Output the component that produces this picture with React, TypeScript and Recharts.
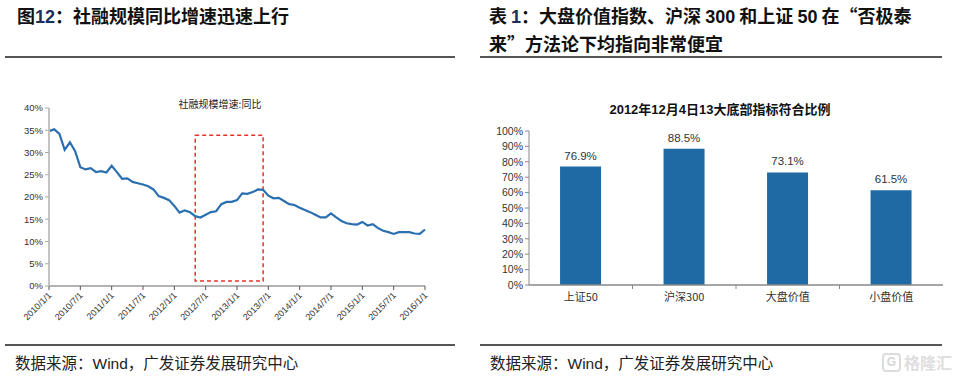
import React from "react";
import {
  LineChart, Line, XAxis, YAxis, ReferenceArea,
  BarChart, Bar, LabelList,
} from "recharts";

// ---------- Left chart data: 社融规模增速:同比 (monthly, 2010/1 – 2016/1) ----------
const tsfGrowth: number[] = [
  34.8, 35.2, 34.2, 30.6, 32.3, 30.3, 26.7, 26.2, 26.5, 25.6, 25.8, 25.5,
  27.0, 25.6, 24.1, 24.2, 23.4, 23.1, 22.8, 22.4, 21.7, 20.2, 19.8, 19.3,
  18.0, 16.5, 17.0, 16.6, 15.7, 15.4, 16.0, 16.6, 16.8, 18.4, 18.9, 18.9,
  19.3, 20.8, 20.7, 21.1, 21.7, 21.6, 20.3, 19.7, 19.8, 19.1, 18.4, 18.2,
  17.6, 17.1, 16.6, 16.0, 15.4, 15.4, 16.3, 15.4, 14.6, 14.1, 13.9, 13.8,
  14.4, 13.6, 13.9, 13.0, 12.4, 12.1, 11.7, 12.1, 12.1, 12.1, 11.8, 11.7,
  12.7,
];
const startYear = 2010;
const monthLabels: string[] = tsfGrowth.map(
  (_, i) => `${startYear + Math.floor(i / 12)}/${(i % 12) + 1}/1`
);
const lineYTicks = [0, 5, 10, 15, 20, 25, 30, 35, 40];
const boxStart = "2012/5/1";
const boxEnd = "2013/6/1";
const boxLow = 1.1;
const boxHigh = 33.9;
const lineData = monthLabels.map((d, i) => ({ date: d, v: tsfGrowth[i] }));

// ---------- Right chart data: 2012年12月4日13大底部指标符合比例 ----------
const barCategories = ["上证50", "沪深300", "大盘价值", "小盘价值"];
const barValues = [76.9, 88.5, 73.1, 61.5];
const barYTicks = [0, 10, 20, 30, 40, 50, 60, 70, 80, 90, 100];
const barData = barCategories.map((c, i) => ({ name: c, v: barValues[i] }));

const FONT = "'Liberation Sans', Arial, 'Noto Sans CJK SC', sans-serif";
const CJK = "'Noto Sans CJK SC', 'Liberation Sans', sans-serif";

// bar chart layout constants
const BAR_W = 478;
const BAR_H = 240;
const BAR_MARGIN = { top: 41, right: 15, left: 9, bottom: 15 };
const BAR_YAXIS_W = 40;
const BAR_PLOT_W = BAR_W - BAR_MARGIN.left - BAR_MARGIN.right - BAR_YAXIS_W;

const LineXTick = (props: any) => {
  const { x, y, payload } = props;
  return (
    <g transform={`translate(${x + 3},${y + 4})`}>
      <text
        x={0}
        y={0}
        textAnchor="end"
        transform="rotate(-45)"
        fontSize={9}
        fill="#333"
        fontFamily={FONT}
      >
        {payload.value}
      </text>
    </g>
  );
};

const BarXTick = (props: any) => {
  const { x, y, payload, index } = props;
  const band = BAR_PLOT_W / barCategories.length;
  return (
    <g>
      {index > 0 && (
        <line x1={x - band / 2} x2={x - band / 2} y1={y - 8} y2={y - 4} stroke="#888" strokeWidth={1} />
      )}
      <text x={x} y={y + 8} textAnchor="middle" fontSize={11} fill="#333" fontFamily={CJK}>
        {payload.value}
      </text>
    </g>
  );
};

const abs = (l: number, t: number, extra: React.CSSProperties = {}): React.CSSProperties => ({
  position: "absolute",
  left: l,
  top: t,
  ...extra,
});

export default function App() {
  const titleStyle: React.CSSProperties = {
    fontFamily: CJK,
    fontWeight: 700,
    fontSize: 18,
    color: "#111",
    whiteSpace: "nowrap",
    lineHeight: "28px",
  };
  const footStyle: React.CSSProperties = {
    fontFamily: CJK,
    fontSize: 15.5,
    color: "#222",
    whiteSpace: "nowrap",
  };
  return (
    <div
      style={{
        position: "absolute",
        left: 0,
        top: 0,
        width: 958,
        height: 380,
        background: "#fff",
        overflow: "hidden",
      }}
    >
      {/* headers */}
      <div style={abs(17, 1, titleStyle)}>
        图<span style={{ fontFamily: FONT, color: "#1a2f5a" }}>12</span>：社融规模同比增速迅速上行
      </div>
      <div style={abs(489, 1, titleStyle)}>
        表 <span style={{ fontFamily: FONT, color: "#1a2f5a" }}>1</span>：大盘价值指数、沪深{" "}
        <span style={{ fontFamily: FONT }}>300</span> 和上证{" "}
        <span style={{ fontFamily: FONT }}>50</span> 在“否极泰
      </div>
      <div style={abs(489, 29, titleStyle)}>来”方法论下均指向非常便宜</div>

      {/* rules */}
      <div style={abs(5, 56, { width: 450, height: 1.5, background: "#555" })} />
      <div style={abs(480, 56, { width: 462, height: 1.5, background: "#555" })} />
      <div style={abs(5, 344, { width: 450, height: 1.5, background: "#555" })} />
      <div style={abs(480, 344, { width: 462, height: 1.5, background: "#555" })} />

      {/* footers */}
      <div style={abs(15, 351, footStyle)}>
        数据来源：<span style={{ fontFamily: FONT }}>Wind</span>，广发证券发展研究中心
      </div>
      <div style={abs(490, 351, footStyle)}>
        数据来源：<span style={{ fontFamily: FONT }}>Wind</span>，广发证券发展研究中心
      </div>

      {/* watermark */}
      <div
        style={abs(882, 352, {
          display: "flex",
          alignItems: "center",
          gap: 3,
          whiteSpace: "nowrap",
          height: 20,
        })}
      >
        <div
          style={{
            width: 15,
            height: 15,
            border: "2px solid #dcdcdc",
            borderRadius: 4,
            color: "#d4d4d4",
            fontFamily: FONT,
            fontWeight: 700,
            fontSize: 12,
            lineHeight: "15px",
            textAlign: "center",
            flex: "none",
          }}
        >
          G
        </div>
        <span
          style={{
            fontFamily: CJK,
            fontWeight: 700,
            fontSize: 16,
            lineHeight: "20px",
            color: "#dedede",
          }}
        >
          格隆汇
        </span>
      </div>

      {/* left chart title */}
      <div
        style={abs(120, 96, {
          width: 200,
          textAlign: "center",
          fontFamily: CJK,
          fontSize: 10,
          color: "#222",
        })}
      >
        社融规模增速:同比
      </div>

      {/* left line chart */}
      <div style={abs(0, 90)}>
        <LineChart
          width={460}
          height={270}
          data={lineData}
          margin={{ top: 18, right: 35, left: 9, bottom: 24 }}
        >
          <XAxis
            dataKey="date"
            interval={5}
            height={50}
            tick={<LineXTick />}
            tickSize={4}
            tickLine={{ stroke: "#555" }}
            axisLine={{ stroke: "#666", strokeWidth: 1.2 }}
          />
          <YAxis
            width={40}
            domain={[0, 40]}
            ticks={lineYTicks}
            interval={0}
            tickFormatter={(v: number) => `${v}%`}
            tick={{ fontSize: 9.5, fill: "#333", fontFamily: FONT }}
            tickSize={4}
            tickLine={{ stroke: "#aaa" }}
            axisLine={{ stroke: "#c4c4c4", strokeWidth: 2 }}
          />
          <ReferenceArea
            x1={boxStart}
            x2={boxEnd}
            y1={boxLow}
            y2={boxHigh}
            fill="none"
            fillOpacity={0}
            stroke="#e8302a"
            strokeWidth={1.5}
            strokeDasharray="4 3"
            ifOverflow="visible"
          />
          <Line
            type="linear"
            dataKey="v"
            stroke="#2a6fb0"
            strokeWidth={2.2}
            dot={false}
            isAnimationActive={false}
          />
        </LineChart>
      </div>

      {/* right chart title */}
      <div
        style={abs(570, 99, {
          width: 300,
          textAlign: "center",
          fontFamily: CJK,
          fontWeight: 700,
          fontSize: 13,
          color: "#111",
        })}
      >
        <span style={{ fontFamily: FONT }}>2012</span>年<span style={{ fontFamily: FONT }}>12</span>月
        <span style={{ fontFamily: FONT }}>4</span>日<span style={{ fontFamily: FONT }}>13</span>大底部指标符合比例
      </div>

      {/* right bar chart */}
      <div style={abs(480, 90)}>
        <BarChart
          width={BAR_W}
          height={BAR_H}
          data={barData}
          margin={BAR_MARGIN}
          barCategoryGap="30%"
        >
          <XAxis
            dataKey="name"
            height={30}
            tick={<BarXTick />}
            tickLine={false}
            axisLine={{ stroke: "#888", strokeWidth: 1.5 }}
          />
          <YAxis
            width={BAR_YAXIS_W}
            domain={[0, 100]}
            ticks={barYTicks}
            interval={0}
            tickFormatter={(v: number) => `${v}%`}
            tick={{ fontSize: 10.5, fill: "#333", fontFamily: FONT }}
            tickSize={4}
            tickLine={{ stroke: "#888" }}
            axisLine={{ stroke: "#888", strokeWidth: 1 }}
          />
          <Bar dataKey="v" fill="#1f6aa5" isAnimationActive={false}>
            <LabelList
              dataKey="v"
              position="top"
              offset={7}
              formatter={(v: number) => `${v.toFixed(1)}%`}
              style={{ fontSize: 11.5, fill: "#333", fontFamily: FONT }}
            />
          </Bar>
        </BarChart>
      </div>
    </div>
  );
}
